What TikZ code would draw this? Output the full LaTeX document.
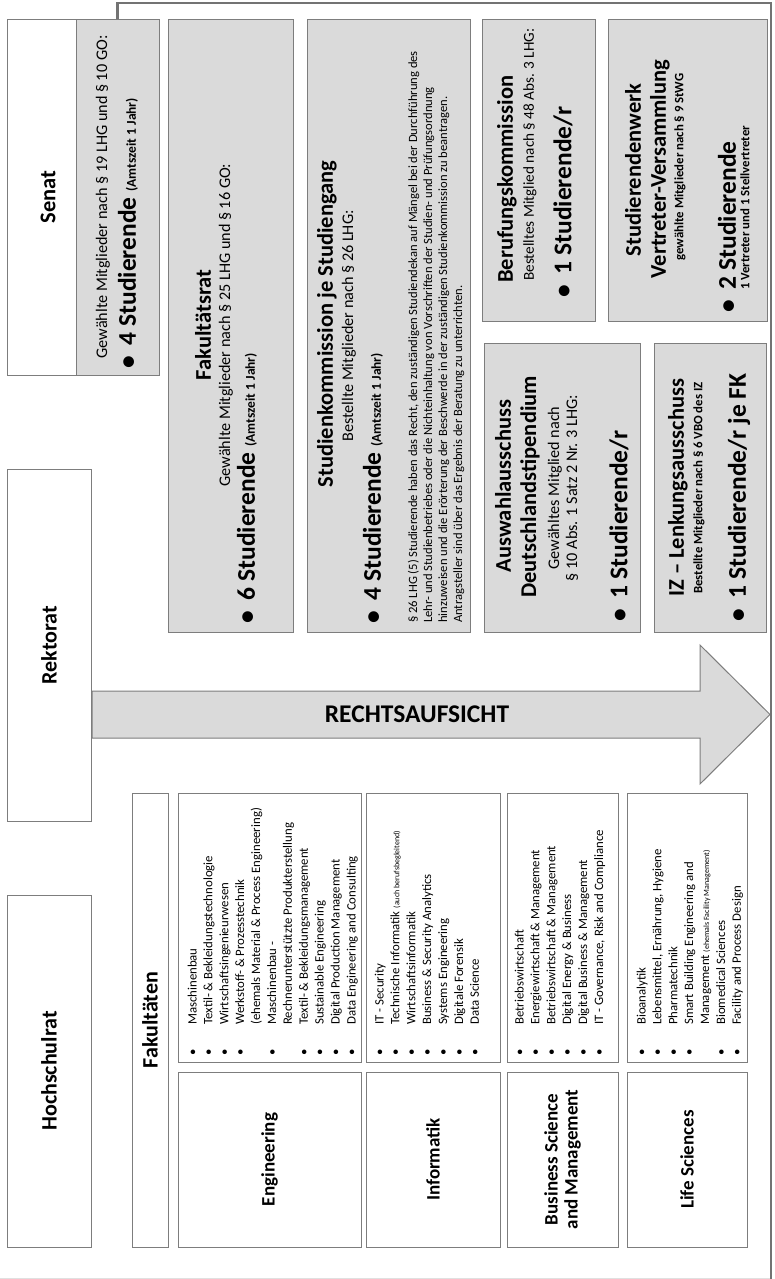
\documentclass[tikz,border=0pt]{standalone}
\usepackage{fontspec}
\setmainfont{Carlito}
\usetikzlibrary{positioning}

\definecolor{boxgray}{RGB}{218,218,218}
\definecolor{linegray}{RGB}{125,125,125}
\definecolor{conngray}{RGB}{115,115,115}

\newcommand{\studline}[1]{\textbullet\hspace{11pt}#1}
\newcommand{\amtszeit}{{\fontsize{13.5}{15}\selectfont (Amtszeit 1 Jahr)}}
\newcommand{\itm}{\makebox[31pt][l]{\textbullet}}
\newcommand{\cnt}{\hspace*{31pt}}
\newcommand{\smallnote}{\fontsize{8}{9}\selectfont}

\begin{document}
\begin{tikzpicture}[x=1pt, y=-1pt,
  gbox/.style={draw=linegray, fill=boxgray, line width=1pt, rotate=90, inner sep=0pt},
  wbox/.style={draw=linegray, fill=white, line width=1pt, rotate=90, inner sep=0pt,
    align=center, font=\fontsize{22}{24}\selectfont\bfseries},
  facname/.style={wbox, font=\fontsize{19}{20}\selectfont\bfseries},
  vt/.style={rotate=90, inner sep=0pt},
  title/.style={vt, font=\fontsize{22.5}{27}\selectfont\bfseries},
  desc/.style={vt, font=\fontsize{16.2}{18}\selectfont},
  stud/.style={vt, anchor=west, font=\fontsize{25.5}{28}\selectfont\bfseries},
  note/.style={vt, font=\fontsize{12.8}{14}\selectfont\bfseries},
  lst/.style={vt, anchor=base west, font=\fontsize{12.8}{15.9}\selectfont},
  para/.style={vt, anchor=base west, font=\fontsize{12.6}{15}\selectfont},
  conn/.style={draw=conngray, line width=2.5pt},
  bigarrow/.style={draw=linegray, fill=boxgray, line width=1pt}]
\useasboundingbox (0,0) rectangle (774,1279);

% connector to the right
\coordinate (ctopright) at (771,3);
\coordinate (cbottom) at (771,1279);

% Senat
\node[wbox, minimum width=355, minimum height=69] (senat) at (41.5,197.5) {};
\node[gbox, minimum width=355, minimum height=83] (senatg) at (117.5,197.5) {};
\node[title] (senatt) at (48,197) {Senat};
\node[desc] (senatd) at (103,197) {Gewählte Mitglieder nach § 19 LHG und § 10 GO:};
\node[stud] (senats) at (128,369) {\studline{4 Studierende \amtszeit}};

% Fakultaetsrat
\node[gbox, minimum width=612, minimum height=125] (fakrat) at (230.5,326) {};
\node[title] (fakratt) at (203,325) {Fakultätsrat};
\node[desc] (fakratd) at (226,325) {Gewählte Mitglieder nach § 25 LHG und § 16 GO:};
\node[stud] (fakrats) at (247,624) {\studline{6 Studierende \amtszeit}};

% Studienkommission
\node[gbox, minimum width=612, minimum height=163] (studkom) at (388.5,326) {};
\node[title] (studkomt) at (327,324) {Studienkommission je Studiengang};
\node[desc] (studkomd) at (349,326) {Bestellte Mitglieder nach § 26 LHG:};
\node[stud] (studkoms) at (373,624) {\studline{4 Studierende \amtszeit}};
\node[para] (studkomp) at (417,623) {\begin{tabular}[t]{@{}l@{}}
§ 26 LHG (5) Studierende haben das Recht, den zuständigen Studiendekan auf Mängel bei der Durchführung des\\
Lehr- und Studienbetriebes oder die Nichteinhaltung von Vorschriften der Studien- und Prüfungsordnung\\
hinzuweisen und die Erörterung der Beschwerde in der zuständigen Studienkommission zu beantragen.\\
Antragsteller sind über das Ergebnis der Beratung zu unterrichten.
\end{tabular}};

% Berufungskommission
\node[gbox, minimum width=301, minimum height=113] (beruf) at (538.5,170.5) {};
\node[title, anchor=west] (beruft) at (507,283) {Berufungskommission};
\node[desc, anchor=west, font=\fontsize{15.2}{18}\selectfont] (berufd) at (530,281) {Bestelltes Mitglied nach § 48 Abs. 3 LHG:};
\node[stud] (berufs) at (563,298) {\studline{1 Studierende/r}};

% Studierendenwerk
\node[gbox, minimum width=301, minimum height=159] (stuwerk) at (687.5,170.5) {};
\node[title] (stuwerkt) at (633,170) {Studierendenwerk};
\node[title] (stuwerkv) at (660,169) {Vertreter-Versammlung};
\node[note] (stuwerkd) at (680,167) {gewählte Mitglieder nach § 9 StWG};
\node[stud] (stuwerks) at (727,313) {\studline{2 Studierende}};
\node[note, anchor=west] (stuwerkn) at (745,290) {1 Vertreter und 1 Stellvertreter};

% Auswahlausschuss
\node[gbox, minimum width=289, minimum height=156] (auswahl) at (562,487.5) {};
\node[title] (auswahlt) at (503,486) {Auswahlausschuss};
\node[title] (auswahlt2) at (530,487) {Deutschlandstipendium};
\node[desc] (auswahld) at (555,488) {Gewähltes Mitglied nach};
\node[desc] (auswahld2) at (572,488) {§ 10 Abs. 1 Satz 2 Nr. 3 LHG:};
\node[stud] (auswahls) at (619,622) {\studline{1 Studierende/r}};

% IZ
\node[gbox, minimum width=289, minimum height=112] (iz) at (710,487.5) {};
\node[title, anchor=west] (izt) at (678,597) {IZ -- Lenkungsausschuss};
\node[note, anchor=west] (izd) at (699,594) {Bestellte Mitglieder nach § 6 VBO des IZ};
\node[stud] (izs) at (739,622) {\studline{1 Studierende/r je FK}};

% Rektorat, Hochschulrat
\node[wbox, minimum width=352, minimum height=84] (rektorat) at (49,645) {Rektorat};
\node[wbox, minimum width=352, minimum height=84] (hsrat) at (49,1071) {Hochschulrat};

% Rechtsaufsicht
\draw[bigarrow] (92,691) -- (700,691) -- (700,645) -- (770,714.5)
  -- (700,784) -- (700,738) -- (92,738) -- cycle;
\node[font=\fontsize{25.5}{28}\selectfont\bfseries] (rechtsauf) at (417,714.5) {RECHTSAUFSICHT};

% Fakultaeten
\node[wbox, minimum width=454, minimum height=36] (fak) at (150,1020) {Fakultäten};

\node[wbox, minimum width=269, minimum height=183] (englist) at (269.5,927.5) {};
\node[facname, minimum width=175, minimum height=183] (eng) at (269.5,1159.5) {Engineering};
\node[wbox, minimum width=269, minimum height=134] (inflist) at (433,927.5) {};
\node[facname, minimum width=175, minimum height=134] (inf) at (433,1159.5) {Informatik};
\node[wbox, minimum width=269, minimum height=111] (buslist) at (562.5,927.5) {};
\node[facname, minimum width=175, minimum height=111] (bus) at (562.5,1159.5) {Business Science\\and Management};
\node[wbox, minimum width=269, minimum height=120] (lifelist) at (687,927.5) {};
\node[facname, minimum width=175, minimum height=120] (life) at (687,1159.5) {Life Sciences};

\node[lst] (engtxt) at (196.5,1056) {\begin{tabular}[t]{@{}l@{}}
\itm Maschinenbau\\
\itm Textil- \& Bekleidungstechnologie\\
\itm Wirtschaftsingenieurwesen\\
\itm Werkstoff- \& Prozesstechnik\\
\cnt (ehemals Material \& Process Engineering)\\
\itm Maschinenbau -\\
\cnt Rechnerunterstützte Produkterstellung\\
\itm Textil- \& Bekleidungsmanagement\\
\itm Sustainable Engineering\\
\itm Digital Production Management\\
\itm Data Engineering and Consulting
\end{tabular}};
\node[lst] (inftxt) at (383.5,1056) {\begin{tabular}[t]{@{}l@{}}
\itm IT - Security\\
\itm Technische Informatik {\smallnote(auch berufsbegleitend)}\\
\itm Wirtschaftsinformatik\\
\itm Business \& Security Analytics\\
\itm Systems Engineering\\
\itm Digitale Forensik\\
\itm Data Science
\end{tabular}};
\node[lst] (bustxt) at (523.5,1056) {\begin{tabular}[t]{@{}l@{}}
\itm Betriebswirtschaft\\
\itm Energiewirtschaft \& Management\\
\itm Betriebswirtschaft \& Management\\
\itm Digital Energy \& Business\\
\itm Digital Business \& Management\\
\itm IT - Governance, Risk and Compliance
\end{tabular}};
\node[lst] (lifetxt) at (645.5,1056) {\begin{tabular}[t]{@{}l@{}}
\itm Bioanalytik\\
\itm Lebensmittel, Ernährung, Hygiene\\
\itm Pharmatechnik\\
\itm Smart Building Engineering and\\
\cnt Management {\smallnote(ehemals Facility Management)}\\
\itm Biomedical Sciences\\
\itm Facility and Process Design
\end{tabular}};

% connector
\draw[conn] (senatg.east) |- (ctopright) -- (cbottom);
\draw[draw=black!12, line width=0.8pt] (0,1278) -- (770,1278);
\end{tikzpicture}
\end{document}
